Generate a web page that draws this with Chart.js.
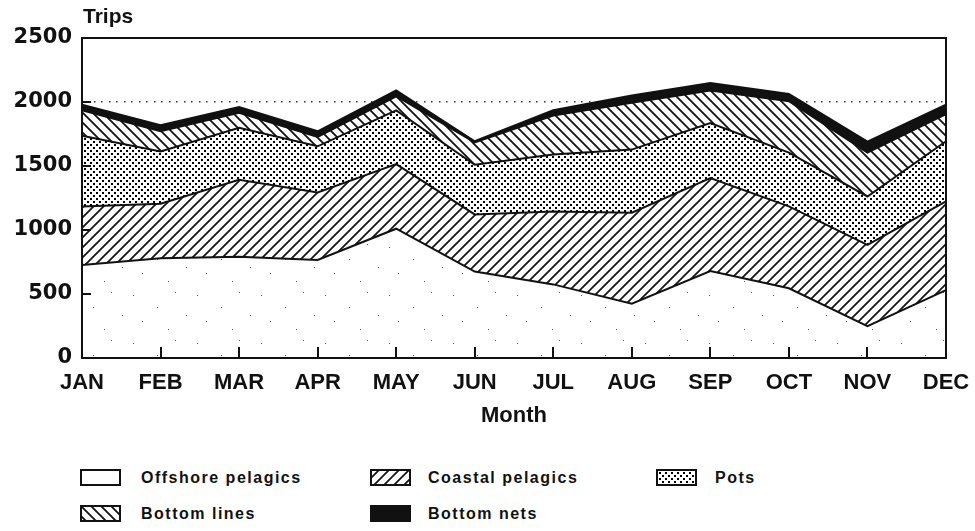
<!DOCTYPE html>
<html><head><meta charset="utf-8">
<script src="https://cdn.jsdelivr.net/npm/chart.js@4.4.1/dist/chart.umd.min.js"></script>
<style>
html,body{margin:0;padding:0;background:#fff;}
#wrap{position:relative;width:975px;height:531px;overflow:hidden;background:#fff;}
#cbox{position:absolute;left:0;top:0;width:975px;height:430px;}
.t{position:absolute;font-family:"Liberation Sans",Arial,sans-serif;font-weight:bold;color:#111;white-space:nowrap;}
#trips{left:83px;top:4px;font-size:21px;}
.sw{position:absolute;width:41px;height:17px;}
.lt{font-size:16px;letter-spacing:1.5px;line-height:18px;}
</style>
</head><body>
<div id="wrap">
  <div id="cbox"><canvas id="c"></canvas></div>
  <div class="t" id="trips">Trips</div>
  <div id="legend"></div>
</div>
<script>
const months = ['JAN','FEB','MAR','APR','MAY','JUN','JUL','AUG','SEP','OCT','NOV','DEC'];
const offshorePelagics = [726, 779, 791, 766, 1010, 675, 575, 425, 680, 545, 248, 530];
const coastalPelagics  = [457, 426, 602, 527, 505, 447, 569, 710, 726, 640, 635, 693];
const pots             = [554, 409, 405, 361, 420, 388, 446, 493, 429, 420, 379, 470];
const bottomLines      = [198, 157, 117, 73, 110, 175, 305, 366, 255, 401, 343, 212];
const bottomNets       = [43, 47, 45, 44, 45, 8, 40, 56, 58, 56, 85, 75];
const yTicks = [0, 500, 1000, 1500, 2000, 2500];
const yTickLabels = ['0', '500', '1000', '1500', '2000', '2500'];
const refLine = 2000;
const seriesNames = ['Offshore pelagics','Coastal pelagics','Pots','Bottom lines','Bottom nets'];

function makeTile(w, h, draw){
  const cv = document.createElement('canvas'); cv.width = w; cv.height = h;
  const c = cv.getContext('2d');
  c.fillStyle = '#fff'; c.fillRect(0,0,w,h);
  draw(c, w, h);
  return cv;
}
const tiles = {
  offshore: makeTile(64, 48, c => {
    c.fillStyle = '#555';
    [[5,7],[29,19],[47,4],[14,33],[40,41],[58,27]].forEach(p => c.fillRect(p[0],p[1],1,1));
  }),
  coastal: makeTile(10, 10, c => {
    c.strokeStyle = '#111'; c.lineWidth = 1.7;
    c.beginPath();
    c.moveTo(-2,12); c.lineTo(12,-2);
    c.moveTo(-7,7); c.lineTo(7,-7);
    c.moveTo(3,17); c.lineTo(17,3);
    c.stroke();
  }),
  pots: makeTile(6, 6, c => {
    c.fillStyle = '#000';
    c.fillRect(0,0,2,2); c.fillRect(3,3,2,2);
  }),
  lines: makeTile(10, 10, c => {
    c.strokeStyle = '#111'; c.lineWidth = 1.8;
    c.beginPath();
    c.moveTo(-2,-2); c.lineTo(12,12);
    c.moveTo(-7,3); c.lineTo(7,17);
    c.moveTo(3,-7); c.lineTo(17,7);
    c.stroke();
  })
};
const cctx = document.getElementById('c').getContext('2d');
const fills = [
  cctx.createPattern(tiles.offshore,'repeat'),
  cctx.createPattern(tiles.coastal,'repeat'),
  cctx.createPattern(tiles.pots,'repeat'),
  cctx.createPattern(tiles.lines,'repeat'),
  '#111'
];
const values = [offshorePelagics, coastalPelagics, pots, bottomLines, bottomNets];

const decor = {
  id: 'decor',
  beforeDatasetsDraw(chart){
    const {ctx, chartArea: a, scales: {y}} = chart;
    const py = y.getPixelForValue(refLine);
    ctx.save(); ctx.fillStyle = '#333';
    for (let x = a.left + 4; x < a.right - 2; x += 7.5) ctx.fillRect(Math.round(x), Math.round(py) - 1, 1.5, 1.5);
    ctx.restore();
  },
  afterDatasetsDraw(chart){
    const {ctx, chartArea: a, scales: {x, y}} = chart;
    ctx.save();
    ctx.strokeStyle = '#111'; ctx.lineWidth = 2;
    ctx.beginPath();
    y.ticks.forEach(t => {
      if (t.value > 0 && t.value < 2500) {
        const py = Math.round(y.getPixelForValue(t.value));
        ctx.moveTo(a.left, py); ctx.lineTo(a.left + 9, py);
      }
    });
    x.ticks.forEach((t, i) => {
      if (i > 0 && i < x.ticks.length - 1) {
        const px = Math.round(x.getPixelForTick(i));
        ctx.moveTo(px, a.bottom); ctx.lineTo(px, a.bottom - 11);
      }
    });
    ctx.stroke();
    ctx.strokeRect(a.left, a.top, a.right - a.left, a.bottom - a.top);
    ctx.restore();
  }
};

new Chart(cctx, {
  type: 'line',
  data: {
    labels: months,
    datasets: values.map((v, i) => ({
      label: seriesNames[i],
      data: v,
      fill: i === 0 ? 'origin' : '-1',
      backgroundColor: fills[i],
      borderColor: '#111',
      borderWidth: 2,
      pointRadius: 0,
      tension: 0
    }))
  },
  options: {
    responsive: true,
    maintainAspectRatio: false,
    animation: false,
    layout: { padding: { left: 0, right: 29, top: 38, bottom: 0 } },
    plugins: { legend: { display: false }, tooltip: { enabled: false } },
    scales: {
      x: {
        offset: false,
        grid: { display: false, drawTicks: false },
        border: { display: false },
        ticks: { autoSkip: false, maxRotation: 0, padding: 12, color: '#111',
          font: { family: '"Liberation Sans", Arial, sans-serif', size: 22, weight: 'bold' } },
        title: { display: true, text: 'Month', color: '#111', padding: { top: 0, bottom: 1 },
          font: { family: '"Liberation Sans", Arial, sans-serif', size: 22, weight: 'bold' } },
        afterFit: s => { s.height = 72; s.paddingRight = 0; s.paddingLeft = 0; }
      },
      y: {
        stacked: true,
        min: 0, max: 2500,
        grid: { display: false, drawTicks: false },
        border: { display: false },
        afterBuildTicks: s => { s.ticks = yTicks.map(v => ({ value: v })); },
        ticks: { padding: 10, color: '#111',
          callback: (v) => yTickLabels[yTicks.indexOf(v)],
          font: { family: '"DejaVu Sans", sans-serif', size: 21, weight: 'bold' } },
        afterFit: s => { s.width = 82; }
      }
    }
  },
  plugins: [decor]
});

// legend
const legendPos = [
  { sx: 80, tx: 141, top: 469 },
  { sx: 370, tx: 428, top: 469 },
  { sx: 656, tx: 715, top: 469 },
  { sx: 80, tx: 141, top: 505 },
  { sx: 370, tx: 428, top: 505 }
];
const lg = document.getElementById('legend');
seriesNames.forEach((name, i) => {
  const p = legendPos[i];
  const sw = document.createElement('canvas');
  sw.width = 41; sw.height = 17; sw.className = 'sw';
  sw.style.left = p.sx + 'px'; sw.style.top = p.top + 'px';
  const c = sw.getContext('2d');
  c.fillStyle = i === 0 ? '#fff' : c.createPattern(i === 1 ? tiles.coastal : i === 2 ? tiles.pots : tiles.lines, 'repeat');
  if (i === 4) c.fillStyle = '#111';
  c.fillRect(0, 0, 41, 17);
  c.strokeStyle = '#111'; c.lineWidth = 2; c.strokeRect(1, 1, 39, 15);
  lg.appendChild(sw);
  const t = document.createElement('div');
  t.className = 't lt'; t.textContent = name;
  t.style.left = p.tx + 'px'; t.style.top = (p.top - 0.5) + 'px';
  lg.appendChild(t);
});
</script>
</body></html>
